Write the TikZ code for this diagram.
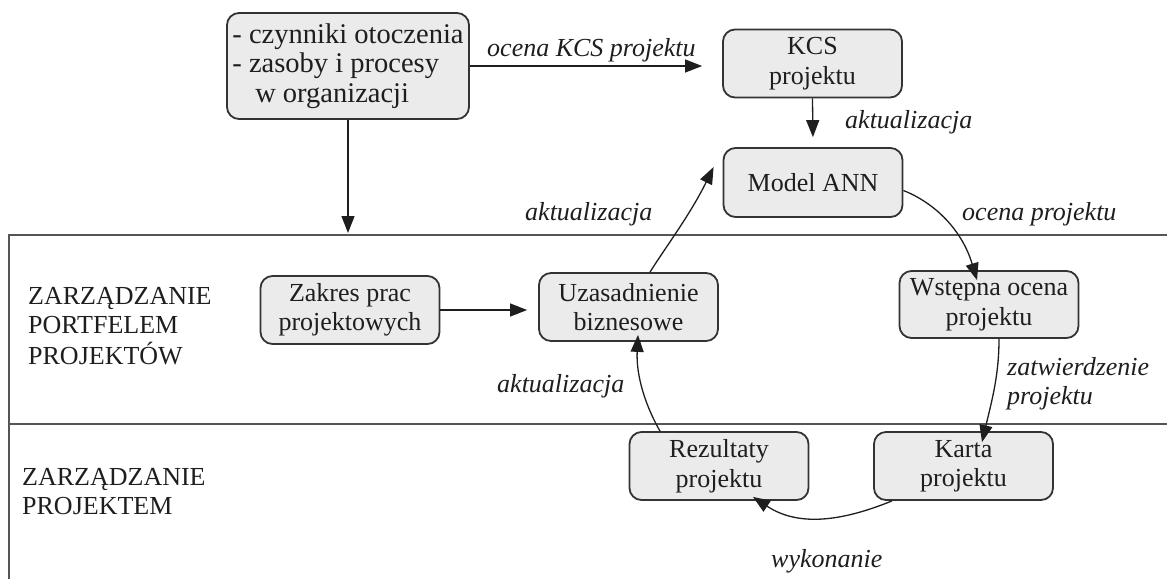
\documentclass[tikz,border=0pt]{standalone}
\usepackage{fontspec}
\setmainfont{Liberation Serif}
\usetikzlibrary{arrows.meta}
\definecolor{boxfill}{HTML}{EBEBEB}
\definecolor{boxline}{HTML}{333333}
\definecolor{ink}{HTML}{1E1E1E}
\definecolor{frameline}{HTML}{555555}
\begin{document}
\begin{tikzpicture}[x=1pt,y=-1pt,
  every node/.style={font=\fontsize{26}{29.5}\selectfont, text=ink},
  stepbox/.style={draw=boxline, line width=1.8pt, fill=boxfill, rounded corners=12pt,
    minimum width=179pt, minimum height=68pt, align=center, inner sep=2pt},
  flow/.style={draw=ink, line width=1.3pt, -{Triangle[length=17pt,width=13pt]}},
  lbl/.style={font=\fontsize{26}{29.5}\selectfont\itshape, inner sep=0pt, anchor=base west},
  lane/.style={inner sep=0pt, anchor=base west}
]
\useasboundingbox (0,0) rectangle (1167,579);

% swimlane frame
\draw[frameline, line width=1.8pt] (1167,235) -- (9,235) -- (9,579);
\draw[frameline, line width=1.8pt] (9,424) -- (1167,424);

% lane titles
\node[lane] (lanePortfolio) at (28,304)
  {\begin{tabular}[t]{@{}l@{}}ZARZĄDZANIE\\PORTFELEM\\PROJEKTÓW\end{tabular}};
\node[lane] (laneProject) at (22,485)
  {\begin{tabular}[t]{@{}l@{}}ZARZĄDZANIE\\PROJEKTEM\end{tabular}};

% boxes
\node[stepbox, minimum width=242pt, minimum height=106pt, align=left,
      font=\fontsize{28.5}{29.5}\selectfont] (env) at (348,66)
  {- czynniki otoczenia\\- zasoby i procesy\\\hspace*{0.8em}w organizacji};
\node[stepbox] (kcs) at (812.5,63.5) {KCS\\projektu};
\node[stepbox, minimum height=69pt] (ann) at (813,182.5) {Model ANN};
\node[stepbox] (zakres) at (350,310) {Zakres prac\\projektowych};
\node[stepbox] (uzas) at (628.5,307) {Uzasadnienie\\biznesowe};
\node[stepbox, minimum height=67pt] (wst) at (989,304.5) {Wstępna ocena\\projektu};
\node[stepbox] (karta) at (963.5,466) {Karta\\projektu};
\node[stepbox] (rez) at (719,466) {Rezultaty\\projektu};

% connectors
\draw[flow, shorten >=20pt] (env.east) -- (env.east -| kcs.west);
\draw[flow] (env.south) -- (env.south |- 0,233);
\draw[flow, shorten >=10pt] (kcs.south) -- (ann.north);
\draw[flow] (zakres.east) -- ([xshift=-11pt]zakres.east -| uzas.west);
\draw[flow] ([xshift=21.5pt]uzas.north) .. controls (665,248) and (690,215) .. ([xshift=-9pt,yshift=15.5pt]ann.west);
\draw[flow] ([yshift=-8pt]ann.east) .. controls (935,203) and (962,230) .. ([xshift=-12pt,yshift=-10pt]wst.north);
\draw[flow] ([xshift=10pt]wst.south) .. controls (999,375) and (992,400) .. ([xshift=18.5pt,yshift=-11pt]karta.north);
\draw[flow] ([xshift=-71.5pt]karta.south) .. controls (845,520) and (800,528) .. ([xshift=34pt,yshift=4pt]rez.south);
\draw[flow] ([xshift=-59pt]rez.north) .. controls (645,405) and (636,375) .. ([xshift=9.5pt,yshift=7pt]uzas.south);

% connector labels
\node[lbl] (lKcs) at (487,56) {ocena KCS projektu};
\node[lbl] (lAkt1) at (845,128) {aktualizacja};
\node[lbl] (lAkt2) at (525,220) {aktualizacja};
\node[lbl] (lOcena) at (962,220) {ocena projektu};
\node[lbl] (lZatw) at (1007,375) {\begin{tabular}[t]{@{}l@{}}zatwierdzenie\\projektu\end{tabular}};
\node[lbl] (lAkt3) at (497,392) {aktualizacja};
\node[lbl] (lWyk) at (771,567) {wykonanie};
\end{tikzpicture}
\end{document}
